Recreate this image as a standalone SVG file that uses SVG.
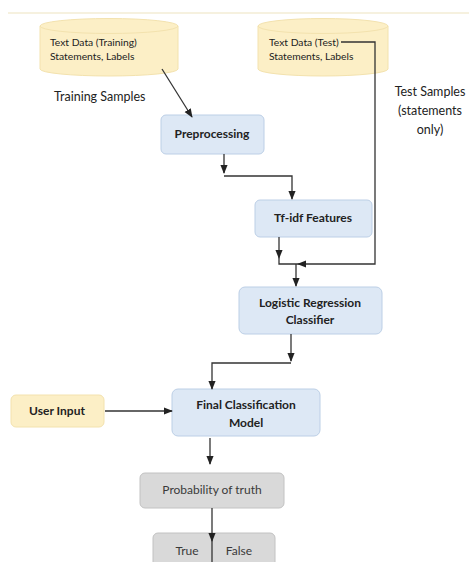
<svg xmlns="http://www.w3.org/2000/svg" width="469" height="562" viewBox="0 0 469 562">
<style>
text{font-family:Lato,"Open Sans","Liberation Sans",sans-serif;fill:#222}
.blue{fill:#dde8f5;stroke:#bccfe6;stroke-width:1}
.yel{fill:#fcefc6;stroke:#f3e2ae;stroke-width:1}
.gray{fill:#d9d9d9;stroke:#c2c2c2;stroke-width:1}
.b{font-weight:bold;font-size:12px;text-anchor:middle}
.g{font-size:12px;text-anchor:middle;fill:#3a3a3a}
.s{font-size:10.3px}
.l{font-size:12.5px}
.c path,.c line,.c polyline{fill:none;stroke:#333;stroke-width:1.3}
</style>
<defs>
<marker id="ah" viewBox="0 0 10 10" refX="9" refY="5" markerWidth="7" markerHeight="7" orient="auto"><path d="M0,1 L10,5 L0,9 z" fill="#222"/></marker>
</defs>
<line x1="8" y1="13" x2="469" y2="13" stroke="#f3ecd4" stroke-width="1.5"/>
<g id="train">
<path class="yel" d="M40,26 L40,69 A69,7 0 0 0 178,69 L178,26"/>
<ellipse class="yel" cx="109" cy="26" rx="69" ry="7.5"/>
<text class="s" x="50" y="46">Text Data (Training)</text>
<text class="s" x="50" y="60">Statements, Labels</text>
</g>
<g id="test">
<path class="yel" d="M258,26 L258,69 A65,7 0 0 0 388,69 L388,26"/>
<ellipse class="yel" cx="323" cy="26" rx="65" ry="7.5"/>
<text class="s" x="269" y="46">Text Data (Test)</text>
<text class="s" x="269" y="60">Statements, Labels</text>
</g>
<g id="trainlbl"><text class="l" x="54" y="101">Training Samples</text></g>
<g id="testlbl">
<text class="l" x="430" y="96" text-anchor="middle">Test Samples</text>
<text class="l" x="430" y="115" text-anchor="middle">(statements</text>
<text class="l" x="430" y="134" text-anchor="middle">only)</text>
</g>
<g id="pre"><rect class="blue" x="161" y="115" width="103" height="39" rx="5"/><text class="b" x="212" y="138">Preprocessing</text></g>
<g id="tfidf"><rect class="blue" x="255" y="200" width="117" height="37" rx="5"/><text class="b" x="313" y="222">Tf-idf Features</text></g>
<g id="lr"><rect class="blue" x="239" y="287" width="143" height="47" rx="6"/><text class="b" x="310" y="307">Logistic Regression</text><text class="b" x="310" y="324">Classifier</text></g>
<g id="final"><rect class="blue" x="172" y="389" width="148" height="47" rx="6"/><text class="b" x="246" y="409">Final Classification</text><text class="b" x="246" y="427">Model</text></g>
<g id="user"><rect class="yel" x="11" y="395" width="93" height="32" rx="5"/><text class="b" x="57" y="415">User Input</text></g>
<g id="prob"><rect class="gray" x="140" y="473" width="144" height="35" rx="5"/><text class="g" x="212" y="494">Probability of truth</text></g>
<g id="tf"><rect class="gray" x="153" y="533" width="122" height="40" rx="5"/><text class="g" x="187" y="555">True</text><text class="g" x="239" y="555">False</text></g>
<g class="c" id="connectors">
<line x1="162" y1="69" x2="192" y2="117" marker-end="url(#ah)"/>
<polyline points="341,42 375,42 375,264 298,264" marker-end="url(#ah)"/>
<path d="M224,154 L224,173" marker-end="url(#ah)"/>
<polyline points="224,176 292,176 292,199" marker-end="url(#ah)"/>
<path d="M279,237 L279,258" marker-end="url(#ah)"/>
<polyline points="279,258 279,264 298,264"/>
<path d="M296,264 L296,286" marker-end="url(#ah)"/>
<path d="M291,334 L291,361" marker-end="url(#ah)"/>
<polyline points="291,363 212,363 212,389" marker-end="url(#ah)"/>
<path d="M105,411 L172,411" marker-end="url(#ah)"/>
<path d="M210,438 L210,464" marker-end="url(#ah)"/>
<path d="M212,508 L212,541" marker-end="url(#ah)"/>
<line x1="212" y1="540" x2="212" y2="562"/>
</g>
</svg>
